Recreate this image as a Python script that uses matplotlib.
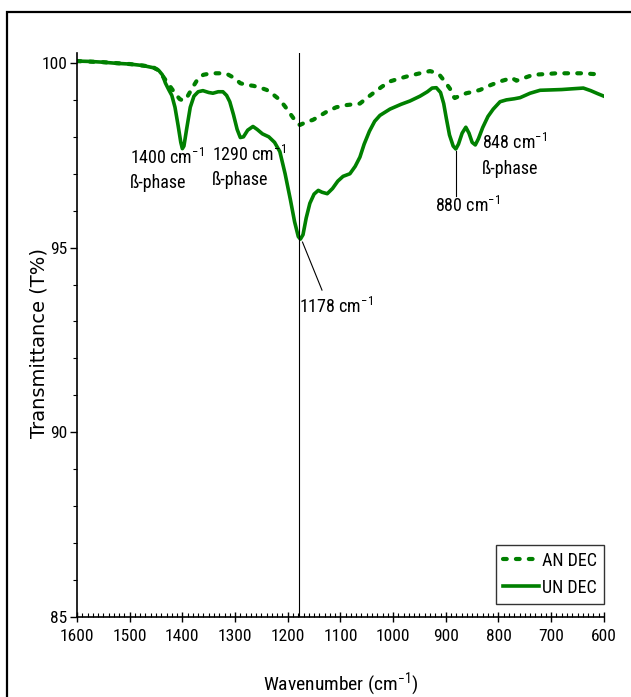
import matplotlib
matplotlib.use("Agg")
import matplotlib.pyplot as plt
from matplotlib.patches import Rectangle
from matplotlib.ticker import MultipleLocator

plt.rcParams['font.family'] = ['Liberation Sans Narrow', 'Roboto Condensed', 'Archivo Narrow',
                               'PT Sans Narrow', 'Liberation Sans', 'DejaVu Sans']
plt.rcParams['mathtext.default'] = 'regular'

GREEN = '#008000'

# FTIR spectra, wavenumber (cm-1) vs transmittance (T%)
un_wn = [1600, 1575, 1550, 1525, 1500, 1475, 1455, 1445, 1438, 1432, 1426, 1420,
         1414, 1408, 1403, 1400, 1397, 1392, 1385, 1378, 1370, 1361, 1350, 1342,
         1332, 1323, 1316, 1310, 1303, 1296, 1290, 1284, 1276, 1266, 1258, 1248,
         1236, 1225, 1215, 1205, 1195, 1187, 1180, 1176, 1171, 1165, 1158, 1150,
         1142, 1135, 1125, 1115, 1105, 1095, 1082, 1072, 1063, 1055, 1045, 1035,
         1025, 1006, 985, 968, 949, 935, 926, 918, 910, 904, 899, 893, 886, 881,
         876, 869, 862, 856, 850, 844, 838, 830, 820, 810, 797, 785, 770, 759,
         740, 721, 700, 680, 660, 639, 625, 612, 600]
un_t = [100.05, 100.04, 100.02, 99.99, 99.97, 99.93, 99.87, 99.80, 99.68, 99.45,
        99.28, 99.12, 98.80, 98.30, 97.85, 97.68, 97.75, 98.20, 98.80, 99.10,
        99.22, 99.25, 99.20, 99.18, 99.22, 99.22, 99.12, 98.95, 98.60, 98.20,
        97.98, 98.00, 98.18, 98.28, 98.20, 98.08, 98.00, 97.85, 97.60, 97.00,
        96.30, 95.70, 95.30, 95.23, 95.35, 95.80, 96.20, 96.45, 96.55, 96.50,
        96.46, 96.60, 96.80, 96.93, 97.00, 97.20, 97.45, 97.80, 98.15, 98.42,
        98.58, 98.75, 98.88, 98.97, 99.10, 99.22, 99.32, 99.33, 99.20, 98.90,
        98.50, 98.05, 97.75, 97.67, 97.80, 98.10, 98.26, 98.10, 97.85, 97.78,
        97.95, 98.25, 98.55, 98.75, 98.95, 99.00, 99.03, 99.06, 99.18, 99.26,
        99.27, 99.28, 99.30, 99.32, 99.25, 99.17, 99.10]

an_wn = [1600, 1550, 1500, 1470, 1455, 1445, 1435, 1425, 1415, 1405, 1398, 1390,
         1380, 1370, 1360, 1345, 1330, 1315, 1300, 1290, 1275, 1265, 1250, 1240,
         1228, 1215, 1205, 1195, 1185, 1177, 1165, 1152, 1140, 1126, 1108, 1088,
         1063, 1050, 1038, 1022, 1006, 990, 975, 955, 940, 930, 920, 911, 902,
         892, 886, 883, 875, 861, 848, 835, 815, 797, 785, 775, 766, 750, 734,
         710, 690, 665, 639, 620, 605]
an_t = [100.05, 100.02, 99.97, 99.92, 99.88, 99.80, 99.60, 99.40, 99.20, 99.02,
        98.98, 99.10, 99.35, 99.58, 99.68, 99.72, 99.72, 99.70, 99.58, 99.45,
        99.40, 99.38, 99.32, 99.27, 99.15, 99.00, 98.82, 98.62, 98.42, 98.32,
        98.40, 98.46, 98.56, 98.68, 98.80, 98.86, 98.90, 99.05, 99.18, 99.35,
        99.50, 99.57, 99.63, 99.70, 99.75, 99.78, 99.74, 99.66, 99.50, 99.30,
        99.10, 99.05, 99.10, 99.18, 99.22, 99.27, 99.40, 99.50, 99.55, 99.60,
        99.52, 99.60, 99.68, 99.70, 99.72, 99.72, 99.72, 99.70, 99.70]

fig = plt.figure(figsize=(6.31, 6.97), dpi=100)
ax = fig.add_axes([0.122, 0.1148, 0.835, 0.8092])

# outer frame around the whole figure
fig.patches.append(Rectangle((0.011, -0.2), 1.2, 1.183, transform=fig.transFigure,
                             fill=False, edgecolor='black', linewidth=1.6))

ax.plot(an_wn, an_t, color=GREEN, linewidth=3.0, linestyle=(0, (0.9, 2.2)),
        dash_capstyle='round', label='AN DEC')
ax.plot(un_wn, un_t, color=GREEN, linewidth=2.6, label='UN DEC')
ax.axvline(1178, color='black', linewidth=0.8)

ax.set_xlim(1600, 600)
ax.set_ylim(85, 100.27)
ax.xaxis.set_major_locator(MultipleLocator(100))
ax.xaxis.set_minor_locator(MultipleLocator(10))
ax.yaxis.set_major_locator(MultipleLocator(5))
ax.yaxis.set_minor_locator(MultipleLocator(1))
ax.tick_params(axis='x', which='major', direction='inout', length=7, width=1,
               labelsize=12.5, pad=5)
ax.tick_params(axis='x', which='minor', direction='in', length=3, width=0.8)
ax.tick_params(axis='y', which='major', direction='out', length=5, width=1,
               labelsize=12.5, pad=2)
ax.tick_params(axis='y', which='minor', direction='out', length=3, width=0.8)
for s in ['top', 'right']:
    ax.spines[s].set_visible(False)
for s in ['left', 'bottom']:
    ax.spines[s].set_linewidth(1.2)

ax.set_xlabel('Wavenumber (cm$^{-1}$)', fontsize=14)
ax.xaxis.set_label_coords(0.5, -0.095)
ax.set_ylabel('Transmittance (T%)', fontsize=14, family=['DejaVu Sans'])
ax.yaxis.set_label_coords(-0.054, 0.485)

# peak labels
fs = 13
ax.text(1499, 97.7, '1400 cm$^{-1}$\nß-phase', ha='left', va='top', fontsize=fs,
        linespacing=1.45)
ax.text(1344, 97.78, '1290 cm$^{-1}$\nß-phase', ha='left', va='top', fontsize=fs,
        linespacing=1.45)
ax.text(832, 98.1, '848 cm$^{-1}$\nß-phase', ha='left', va='top', fontsize=fs,
        linespacing=1.45)
ax.text(921, 96.4, '880 cm$^{-1}$', ha='left', va='top', fontsize=fs)
ax.plot([880, 880], [97.62, 96.4], color='black', linewidth=0.8)
ax.text(1178, 93.4, '1178 cm$^{-1}$', ha='left', va='center', fontsize=fs)
ax.plot([1172, 1135], [95.15, 93.85], color='black', linewidth=0.8)

leg = ax.legend(loc='lower right', bbox_to_anchor=(1.0, 0.023), fontsize=13,
                frameon=True, fancybox=False, edgecolor='black', handlelength=2.0,
                handletextpad=0.15, borderpad=0.4, labelspacing=0.5,
                borderaxespad=0.0)
leg.get_frame().set_linewidth(1.0)

fig.savefig('out.png', dpi=100)
